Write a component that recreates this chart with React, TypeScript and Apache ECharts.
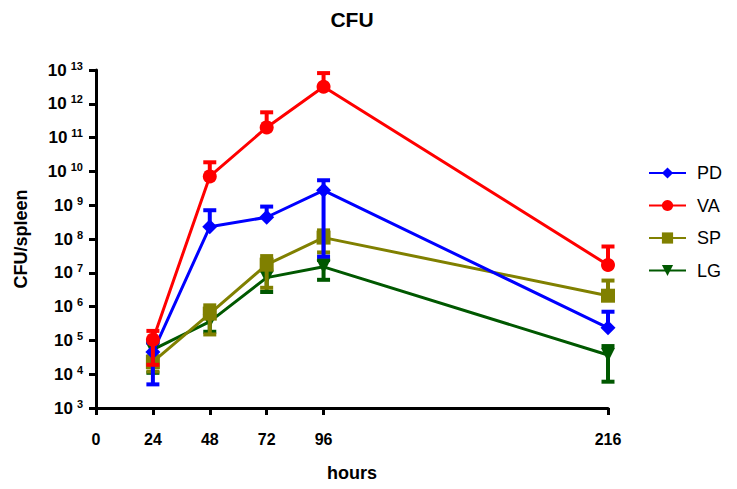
import React, { useEffect, useRef } from "react";
import * as echarts from "echarts";

const hours = [24, 48, 72, 96, 216];
const xTicks = [0, 24, 48, 72, 96, 216];
const seriesNames = ["PD", "VA", "SP", "LG"];
const pdMean = [4.5e4, 2.3e8, 4.4e8, 2.75e9, 2.35e5];
const pdSd = [4.0e4, 4.8e8, 4.7e8, 2.72e9, 4.7e5];
const vaMean = [1.05e5, 7.1e9, 2.0e11, 3.2e12, 1.7e7];
const vaSd = [8.6e4, 1.15e10, 3.6e11, 4.9e12, 4.3e7];
const spMean = [2.3e4, 6.2e5, 1.74e7, 1.1e8, 2.1e6];
const spSd = [1.1e4, 4.7e5, 1.38e7, 7.0e7, 3.8e6];
const lgMean = [5.3e4, 3.6e5, 7.2e6, 1.5e7, 3.7e4];
const lgSd = [4.2e4, 1.8e5, 4.5e6, 8.8e6, 3.1e4];

const FONT = "'Liberation Sans', Arial, sans-serif";

export default function App() {
  const ref = useRef<HTMLDivElement>(null);
  useEffect(() => {
    if (!ref.current) return;
    const chart = echarts.init(ref.current, null, { renderer: "svg" });

    const groups = [
      { name: "PD", mean: pdMean, sd: pdSd, color: "#0000ff", symbol: "diamond", size: 15, rot: 0, z: 4 },
      { name: "VA", mean: vaMean, sd: vaSd, color: "#ff0000", symbol: "circle", size: 14, rot: 0, z: 5 },
      { name: "SP", mean: spMean, sd: spSd, color: "#808000", symbol: "rect", size: 14, rot: 0, z: 3 },
      { name: "LG", mean: lgMean, sd: lgSd, color: "#005800", symbol: "triangle", size: 14, rot: 180, z: 2 },
    ];

    const series: any[] = [];
    groups.forEach((g) => {
      series.push({
        name: g.name,
        type: "line",
        z: g.z,
        data: hours.map((h, i) => [h, g.mean[i]]),
        symbol: g.symbol,
        symbolSize: g.size,
        symbolRotate: g.rot,
        itemStyle: { color: g.color },
        lineStyle: { color: g.color, width: 3 },
      });
      series.push({
        name: g.name + "_err",
        type: "custom",
        z: g.z,
        data: hours.map((h, i) => {
          const lo = g.mean[i] - g.sd[i];
          return [h, lo > 0 ? lo : g.mean[i], g.mean[i] + g.sd[i], lo > 0 ? 1 : 0];
        }),
        encode: { x: 0, y: [1, 2] },
        renderItem: (params: any, api: any) => {
          const x = api.value(0);
          const lo = api.value(1);
          const hi = api.value(2);
          const hasLo = api.value(3);
          const pLo = api.coord([x, lo]);
          const pHi = api.coord([x, hi]);
          const w = 6.5;
          const st = { stroke: g.color, lineWidth: 4 };
          const children: any[] = [
            { type: "line", shape: { x1: pLo[0], y1: pLo[1], x2: pHi[0], y2: pHi[1] }, style: st },
            { type: "line", shape: { x1: pHi[0] - w, y1: pHi[1], x2: pHi[0] + w, y2: pHi[1] }, style: st },
          ];
          if (hasLo) {
            children.push({ type: "line", shape: { x1: pLo[0] - w, y1: pLo[1], x2: pLo[0] + w, y2: pLo[1] }, style: st });
          }
          return { type: "group", children };
        },
      });
    });

    chart.setOption({
      animation: false,
      backgroundColor: "#ffffff",
      grid: { left: 96, right: 129, top: 70, bottom: 81, containLabel: false },
      graphic: [
        {
          type: "text",
          x: 352,
          y: 9,
          style: { text: "CFU", font: `bold 21px ${FONT}`, fill: "#000", textAlign: "center" },
        },
      ],
      legend: {
        data: seriesNames,
        orient: "vertical",
        left: 643,
        top: 159,
        itemWidth: 37,
        itemHeight: 14,
        itemGap: 14.5,
        textStyle: { fontSize: 18, color: "#000", fontFamily: FONT, padding: [0, 0, 0, 6] },
      },
      xAxis: {
        type: "value",
        min: 0,
        max: 216,
        interval: 24,
        name: "hours",
        nameLocation: "middle",
        nameGap: 56,
        nameTextStyle: { fontSize: 18, fontWeight: "bold", color: "#000", fontFamily: FONT },
        axisLine: { onZero: false, lineStyle: { color: "#000", width: 3 } },
        axisTick: { show: true, customValues: xTicks, length: 7, lineStyle: { color: "#000", width: 3 } },
        axisLabel: {
          customValues: xTicks,
          margin: 23,
          fontSize: 16,
          fontWeight: "bold",
          color: "#000",
          fontFamily: FONT,
        },
        splitLine: { show: false },
      },
      yAxis: {
        type: "log",
        logBase: 10,
        min: 1e3,
        max: 1e13,
        name: "CFU/spleen",
        nameLocation: "middle",
        nameGap: 66,
        nameTextStyle: { fontSize: 18, fontWeight: "bold", color: "#000", fontFamily: FONT },
        axisLine: { show: true, lineStyle: { color: "#000", width: 3 } },
        axisTick: { show: true, length: 7, lineStyle: { color: "#000", width: 3 } },
        minorTick: { show: false },
        splitLine: { show: false },
        axisLabel: {
          margin: 13,
          formatter: (v: number) => `{b|10}{s|${Math.round(Math.log10(v))}}`,
          rich: {
            b: { fontSize: 17, fontWeight: "bold", color: "#000", fontFamily: FONT, lineHeight: 20 },
            s: { fontSize: 11, fontWeight: "bold", color: "#000", fontFamily: FONT, verticalAlign: "top", lineHeight: 12, padding: [0, 0, 8, 4] },
          },
        },
      },
      series,
    });
    return () => chart.dispose();
  }, []);
  return <div ref={ref} style={{ position: "absolute", left: 0, top: 0, width: 737, height: 489 }} />;
}
